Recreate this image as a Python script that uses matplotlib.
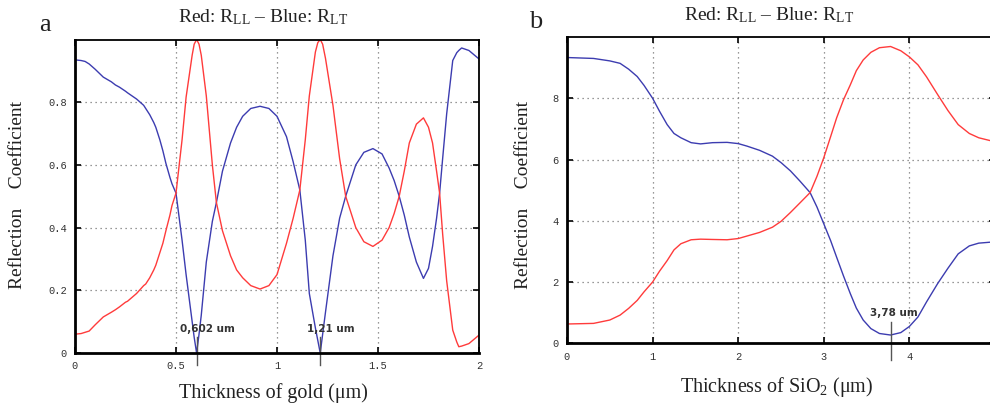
import numpy as np
import matplotlib
matplotlib.use('Agg')
import matplotlib.pyplot as plt

# panel a: thickness of gold (um)
gold_x = [0.00, 0.03, 0.05, 0.07, 0.10, 0.14, 0.18, 0.20, 0.22, 0.25, 0.26, 0.305, 0.34, 0.35,
          0.37, 0.39, 0.40, 0.42, 0.435, 0.45, 0.47, 0.48, 0.50, 0.53, 0.55, 0.58, 0.59, 0.602,
          0.614, 0.625, 0.65, 0.68, 0.70, 0.73, 0.77, 0.80, 0.83, 0.87, 0.916, 0.96, 1.00, 1.047,
          1.08, 1.113, 1.14, 1.16, 1.19, 1.202, 1.214, 1.226, 1.24, 1.277, 1.31, 1.34, 1.39, 1.43,
          1.475, 1.52, 1.555, 1.58, 1.605, 1.63, 1.655, 1.69, 1.725, 1.75, 1.77, 1.79, 1.805, 1.82,
          1.84, 1.87, 1.89, 1.90, 1.914, 1.95, 2.00]
gold_blue = [0.935, 0.933, 0.930, 0.922, 0.905, 0.88, 0.865, 0.855, 0.848, 0.835, 0.83, 0.81, 0.79, 0.78,
             0.76, 0.735, 0.72, 0.68, 0.645, 0.605, 0.56, 0.54, 0.51, 0.36, 0.25, 0.10, 0.05, 0.00,
             0.06, 0.12, 0.29, 0.42, 0.48, 0.58, 0.67, 0.72, 0.755, 0.78, 0.787, 0.78, 0.755, 0.69,
             0.61, 0.52, 0.36, 0.19, 0.08, 0.04, 0.00, 0.06, 0.13, 0.31, 0.43, 0.50, 0.60, 0.64,
             0.652, 0.635, 0.59, 0.55, 0.50, 0.44, 0.37, 0.29, 0.238, 0.27, 0.34, 0.43, 0.51, 0.62,
             0.763, 0.933, 0.958, 0.965, 0.973, 0.965, 0.938]
gold_red = [0.06, 0.062, 0.066, 0.07, 0.09, 0.115, 0.13, 0.138, 0.147, 0.162, 0.165, 0.19, 0.215, 0.22,
            0.24, 0.265, 0.28, 0.32, 0.35, 0.39, 0.44, 0.47, 0.51, 0.68, 0.816, 0.95, 0.985, 1.00,
            0.985, 0.95, 0.82, 0.60, 0.48, 0.39, 0.31, 0.265, 0.24, 0.215, 0.204, 0.215, 0.25, 0.35,
            0.43, 0.52, 0.68, 0.82, 0.96, 0.99, 1.00, 0.985, 0.94, 0.79, 0.62, 0.50, 0.40, 0.355,
            0.34, 0.36, 0.40, 0.445, 0.50, 0.58, 0.67, 0.73, 0.75, 0.72, 0.67, 0.58, 0.51, 0.38,
            0.23, 0.073, 0.035, 0.02, 0.022, 0.03, 0.057]

# panel b: thickness of SiO2 (um)
sio2_x = [0.00, 0.31, 0.50, 0.62, 0.72, 0.82, 0.90, 1.00, 1.08, 1.17, 1.25, 1.33, 1.45, 1.56, 1.70,
          1.87, 2.00, 2.10, 2.25, 2.40, 2.50, 2.61, 2.72, 2.84, 2.92, 3.00, 3.08, 3.15, 3.23, 3.31,
          3.38, 3.46, 3.55, 3.65, 3.78, 3.90, 4.00, 4.10, 4.20, 4.33, 4.45, 4.57, 4.70, 4.81, 4.94, 5.00]
sio2_blue = [9.33, 9.30, 9.22, 9.14, 8.95, 8.71, 8.42, 8.00, 7.58, 7.14, 6.85, 6.71, 6.55, 6.51, 6.55,
             6.56, 6.52, 6.44, 6.30, 6.11, 5.90, 5.63, 5.30, 4.92, 4.45, 3.90, 3.35, 2.81, 2.20, 1.62,
             1.15, 0.76, 0.48, 0.32, 0.27, 0.35, 0.55, 0.86, 1.35, 1.95, 2.45, 2.92, 3.18, 3.27, 3.30, 3.30]
sio2_red = [0.63, 0.65, 0.76, 0.92, 1.14, 1.40, 1.68, 2.00, 2.35, 2.70, 3.05, 3.25, 3.38, 3.40, 3.39,
            3.38, 3.42, 3.50, 3.62, 3.79, 3.98, 4.27, 4.58, 4.92, 5.45, 6.06, 6.75, 7.36, 7.95, 8.44,
            8.90, 9.25, 9.50, 9.65, 9.69, 9.55, 9.35, 9.09, 8.70, 8.12, 7.60, 7.14, 6.85, 6.71, 6.62, 6.60]

red = '#ff3b3b'
blue = '#3c3cb0'
serif = 'Liberation Serif'
mono = 'Liberation Mono'

plt.rcParams['mathtext.fontset'] = 'custom'
plt.rcParams['mathtext.rm'] = serif
plt.rcParams['mathtext.it'] = serif

fig = plt.figure(figsize=(9.9, 4.07), dpi=100)
axa = fig.add_axes([75/990, 54/407, 404/990, 313.5/407])
axb = fig.add_axes([567/990, 63.7/407, 428/990, 306.3/407])


def style(ax):
    ax.grid(True, color='#777777', linestyle=(0, (1, 3)), linewidth=0.9)
    ax.tick_params(direction='in', top=True, right=True, length=4, width=1.2,
                   labelsize=7.5, labelcolor='#333333', pad=6)
    for lab in ax.get_xticklabels() + ax.get_yticklabels():
        lab.set_family(mono)
    for s in ['left', 'bottom']:
        ax.spines[s].set_linewidth(2.0)
    for s in ['top', 'right']:
        ax.spines[s].set_linewidth(1.3)


axa.plot(gold_x, gold_blue, color=blue, lw=1.0)
axa.plot(gold_x, gold_red, color=red, lw=1.0)
axa.set_xlim(0, 2)
axa.set_ylim(0, 1)
axa.set_xticks([0, 0.5, 1, 1.5, 2])
axa.set_xticklabels(['0', '0.5', '1', '1.5', '2'])
axa.set_yticks([0, 0.2, 0.4, 0.6, 0.8])
axa.set_yticklabels(['0', '0.2', '0.4', '0.6', '0.8'])
style(axa)

for xm, lab, xt in [(0.602, '0,602 um', 0.52), (1.214, '1,21 um', 1.15)]:
    axa.plot([xm, xm], [0.051, -0.038], color='#555555', lw=1.0, clip_on=False)
    axa.text(xt, 0.076, lab, fontsize=7.5, fontweight='bold', color='#333333',
             family='DejaVu Sans', va='center', ha='left')

axb.plot(sio2_x, sio2_blue, color=blue, lw=1.0)
axb.plot(sio2_x, sio2_red, color=red, lw=1.0)
axb.set_xlim(0, 5)
axb.set_ylim(0, 10)
axb.set_xticks([0, 1, 2, 3, 4, 5])
axb.set_xticklabels(['0', '1', '2', '3', '4', ''])  # the 5 falls off the picture
axb.set_yticks([0, 2, 4, 6, 8])
axb.set_yticklabels(['0', '2', '4', '6', '8'])
style(axb)
axb.plot([3.78, 3.78], [0.69, -0.54], color='#555555', lw=1.0, clip_on=False)
axb.text(3.54, 0.98, '3,78 um', fontsize=7.5, fontweight='bold', color='#333333',
         family='DejaVu Sans', va='center', ha='left')

# titles, axis labels, panel letters
title = 'Red: R$_{\\mathrm{LL}}$ \u2013 Blue: R$_{\\mathrm{LT}}$'
fig.text(263/990, 1 - 17/407, title, family=serif, fontsize=14, ha='center', va='center', color='#222222')
fig.text(769/990, 1 - 15/407, title, family=serif, fontsize=14, ha='center', va='center', color='#222222')
fig.text(45/990, 1 - 25/407, 'a', family=serif, fontsize=19, ha='center', va='center', color='#222222')
fig.text(536/990, 1 - 22/407, 'b', family=serif, fontsize=19, ha='center', va='center', color='#222222')
fig.text(18/990, 1 - 195/407, 'Reflection    Coefficient', family=serif, fontsize=14,
         rotation=90, ha='center', va='center', color='#222222')
fig.text(524/990, 1 - 195/407, 'Reflection    Coefficient', family=serif, fontsize=14,
         rotation=90, ha='center', va='center', color='#222222')
fig.text(273/990, 1 - 393/407, 'Thickness of gold (\u03bcm)', family=serif, fontsize=14.5,
         ha='center', va='center', color='#222222')
fig.text(777/990, 1 - 387/407, 'Thickness of SiO$_2$ (\u03bcm)', family=serif, fontsize=14.5,
         ha='center', va='center', color='#222222')

fig.savefig('out.png', dpi=100)
